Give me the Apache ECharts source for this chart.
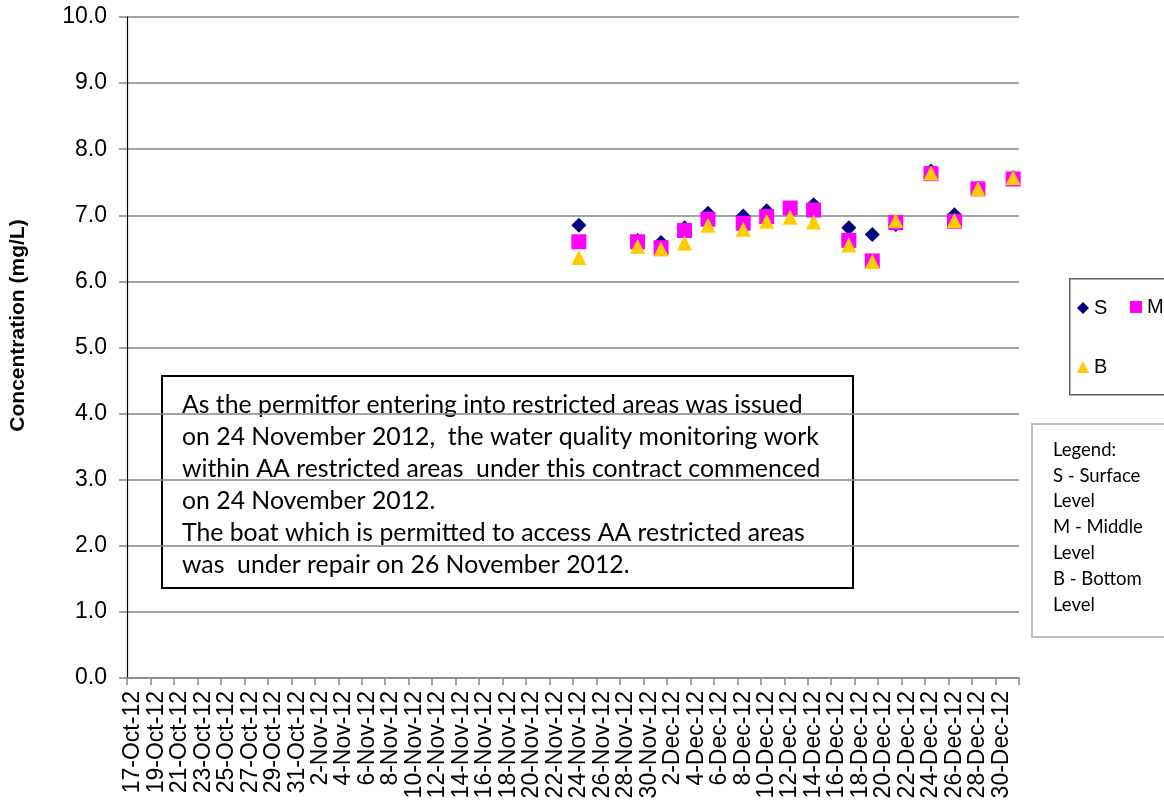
<!DOCTYPE html>
<html>
<head>
<meta charset="utf-8">
<script src="https://cdn.jsdelivr.net/npm/echarts@6/dist/echarts.min.js"></script>
<style>
html,body{margin:0;padding:0;background:#fff;}
#chart{width:1164px;height:804px;}
</style>
</head>
<body>
<div id="chart"></div>
<script>
// Daily category axis, 17-Oct-12 to 31-Dec-12
const categories = [
  '17-Oct-12','18-Oct-12','19-Oct-12','20-Oct-12','21-Oct-12','22-Oct-12','23-Oct-12','24-Oct-12',
  '25-Oct-12','26-Oct-12','27-Oct-12','28-Oct-12','29-Oct-12','30-Oct-12','31-Oct-12',
  '1-Nov-12','2-Nov-12','3-Nov-12','4-Nov-12','5-Nov-12','6-Nov-12','7-Nov-12','8-Nov-12','9-Nov-12',
  '10-Nov-12','11-Nov-12','12-Nov-12','13-Nov-12','14-Nov-12','15-Nov-12','16-Nov-12','17-Nov-12',
  '18-Nov-12','19-Nov-12','20-Nov-12','21-Nov-12','22-Nov-12','23-Nov-12','24-Nov-12','25-Nov-12',
  '26-Nov-12','27-Nov-12','28-Nov-12','29-Nov-12','30-Nov-12',
  '1-Dec-12','2-Dec-12','3-Dec-12','4-Dec-12','5-Dec-12','6-Dec-12','7-Dec-12','8-Dec-12','9-Dec-12',
  '10-Dec-12','11-Dec-12','12-Dec-12','13-Dec-12','14-Dec-12','15-Dec-12','16-Dec-12','17-Dec-12',
  '18-Dec-12','19-Dec-12','20-Dec-12','21-Dec-12','22-Dec-12','23-Dec-12','24-Dec-12','25-Dec-12',
  '26-Dec-12','27-Dec-12','28-Dec-12','29-Dec-12','30-Dec-12','31-Dec-12'
];

// Sampling dates
const sampleDates = [
  '24-Nov-12','29-Nov-12','1-Dec-12','3-Dec-12','5-Dec-12','8-Dec-12','10-Dec-12','12-Dec-12',
  '14-Dec-12','17-Dec-12','19-Dec-12','21-Dec-12','24-Dec-12','26-Dec-12','28-Dec-12','31-Dec-12'
];
const surface = [6.85, 6.62, 6.59, 6.81, 7.03, 6.99, 7.07, 7.10, 7.16, 6.81, 6.71, 6.86, 7.67, 7.01, 7.41, 7.57];
const middle  = [6.60, 6.60, 6.51, 6.77, 6.94, 6.88, 6.98, 7.11, 7.08, 6.62, 6.31, 6.89, 7.63, 6.91, 7.40, 7.55];
const bottom  = [6.36, 6.53, 6.49, 6.58, 6.85, 6.79, 6.91, 6.97, 6.90, 6.55, 6.30, 6.92, 7.64, 6.92, 7.40, 7.57];

const yTicks = [0,1,2,3,4,5,6,7,8,9,10];

const noteLines = [
  'As the permitfor entering into restricted areas was issued',
  'on 24 November 2012,  the water quality monitoring work',
  'within AA restricted areas  under this contract commenced',
  'on 24 November 2012.',
  'The boat which is permitted to access AA restricted areas',
  'was  under repair on 26 November 2012.'
];
const legendNoteLines = ['Legend:', 'S - Surface', 'Level', 'M - Middle', 'Level', 'B - Bottom', 'Level'];

const pairs = vals => sampleDates.map((d, i) => [d, vals[i]]);

const chart = echarts.init(document.getElementById('chart'), null, {renderer: 'canvas'});
const axisFont = '"Liberation Sans", Arial, sans-serif';
const noteFont = 'Lato, "Open Sans", sans-serif';

const legendText = {fontSize: 20, lineHeight: 20, color: '#000', fontFamily: axisFont};
const legendBase = {orient: 'horizontal', itemWidth: 12, itemHeight: 12, padding: 0, selectedMode: false, textStyle: legendText};

chart.setOption({
  animation: false,
  backgroundColor: '#ffffff',
  grid: {left: 127, top: 17, right: 145, bottom: 126, containLabel: false},
  xAxis: {
    type: 'category',
    data: categories,
    boundaryGap: true,
    axisLine: {show: true, lineStyle: {color: '#868686', width: 1.5}},
    axisTick: {show: true, interval: 1, length: 7, lineStyle: {color: '#868686', width: 1.5}},
    axisLabel: {interval: 1, rotate: 90, margin: 13, fontSize: 23, color: '#000', fontFamily: axisFont},
    splitLine: {show: false}
  },
  yAxis: {
    type: 'value',
    min: yTicks[0], max: yTicks[yTicks.length - 1], interval: 1,
    name: 'Concentration (mg/L)',
    nameLocation: 'middle',
    nameRotate: 90,
    nameGap: 98,
    nameTextStyle: {fontSize: 21, fontWeight: 'bold', color: '#000', fontFamily: axisFont, padding: [0, 0, 0, 44]},
    axisLine: {show: true, lineStyle: {color: '#000', width: 1.2}},
    axisTick: {show: true, length: 8, lineStyle: {color: '#868686', width: 1.5}},
    axisLabel: {margin: 20, fontSize: 23, color: '#000', fontFamily: axisFont, formatter: v => v.toFixed(1)},
    splitLine: {show: true, lineStyle: {color: '#868686', width: 1.5}}
  },
  legend: [
    Object.assign({data: [{name: 'S', icon: 'diamond'}], left: 1077, top: 298}, legendBase),
    Object.assign({data: [{name: 'M', icon: 'rect'}], left: 1130, top: 297}, legendBase),
    Object.assign({data: [{name: 'B', icon: 'triangle'}], left: 1077, top: 357}, legendBase)
  ],
  series: [
    {name: 'S', type: 'scatter', data: pairs(surface), symbol: 'diamond', symbolSize: [15, 15],
     itemStyle: {color: '#000080', opacity: 1}, z: 3},
    {name: 'M', type: 'scatter', data: pairs(middle), symbol: 'rect', symbolSize: [15, 15],
     itemStyle: {color: '#ff00ff', opacity: 1}, z: 4},
    {name: 'B', type: 'scatter', data: pairs(bottom), symbol: 'triangle', symbolSize: [15, 15],
     itemStyle: {color: '#ffcc00', opacity: 1}, z: 5}
  ],
  graphic: [
    {type: 'rect', z: 0, left: 1069, top: 278, shape: {width: 120, height: 116},
     style: {fill: '#fff', stroke: '#606060', lineWidth: 1.5}, silent: true},
    {type: 'group', z: 100, children: [
      {type: 'rect', x: 162, y: 376, shape: {width: 691, height: 212},
       style: {fill: '#fff', stroke: '#000', lineWidth: 2}},
      {type: 'text', x: 182, y: 389,
       style: {text: noteLines.join('\n'), font: '24.8px ' + noteFont, lineHeight: 32, fill: '#000',
               verticalAlign: 'top'}}
    ]},
    {type: 'group', z: 100, children: [
      {type: 'rect', x: 1032, y: 424, shape: {width: 150, height: 213},
       style: {fill: '#fff', stroke: '#bfbfbf', lineWidth: 2}},
      {type: 'text', x: 1053, y: 437,
       style: {text: legendNoteLines.join('\n'), font: '18.5px ' + noteFont, lineHeight: 25.8, fill: '#000',
               verticalAlign: 'top'}}
    ]}
  ]
});
</script>
</body>
</html>
